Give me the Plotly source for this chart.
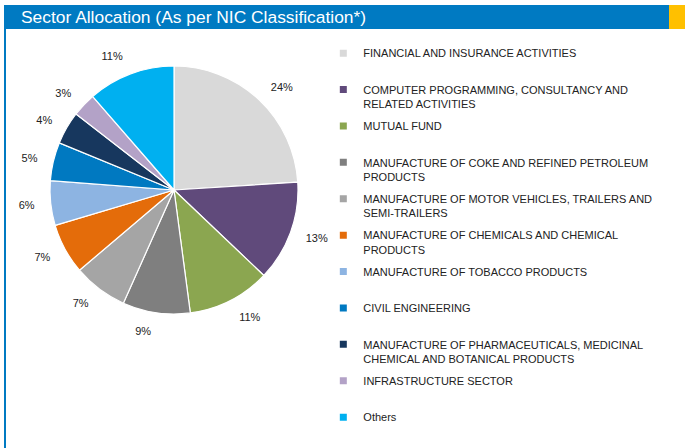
import plotly.graph_objects as go

sectors = [
    "FINANCIAL AND INSURANCE ACTIVITIES",
    "COMPUTER PROGRAMMING, CONSULTANCY AND<br>RELATED ACTIVITIES",
    "MUTUAL FUND",
    "MANUFACTURE OF COKE AND REFINED PETROLEUM<br>PRODUCTS",
    "MANUFACTURE OF MOTOR VEHICLES, TRAILERS AND<br>SEMI-TRAILERS",
    "MANUFACTURE OF CHEMICALS AND CHEMICAL<br>PRODUCTS",
    "MANUFACTURE OF TOBACCO PRODUCTS",
    "CIVIL ENGINEERING",
    "MANUFACTURE OF PHARMACEUTICALS, MEDICINAL<br>CHEMICAL AND BOTANICAL PRODUCTS",
    "INFRASTRUCTURE SECTOR",
    "Others",
]
weights = [24.0, 13.1, 10.8, 8.8, 7.1, 6.6, 5.8, 5.0, 4.3, 3.1, 11.4]
colors = ["#D9D9D9", "#604A7B", "#8BA650", "#7F7F7F", "#A5A5A5", "#E46C0A",
          "#8DB4E2", "#0079C1", "#17375E", "#B3A2C7", "#00B0F0"]

W, H = 685, 448
cx, cy, r = 174, 190, 124   # pie centre / radius in px
label_half = 137            # half-size of the (larger) domain carrying the % labels

fig = go.Figure()

# invisible pie, only there to carry the percentage labels a bit off the edge
fig.add_trace(go.Pie(
    values=weights, labels=sectors, sort=False, direction="clockwise", rotation=0,
    marker=dict(colors=["rgba(0,0,0,0)"] * len(weights), line=dict(width=0)),
    texttemplate="%{percent:.0%}", textposition="outside",
    textfont=dict(family="Liberation Sans, Arial", size=11, color="#222222"),
    domain=dict(x=[(cx - label_half) / W, (cx + label_half) / W],
                y=[1 - (cy + label_half) / H, 1 - (cy - label_half) / H]),
    showlegend=False, hoverinfo="skip",
))

fig.add_trace(go.Pie(
    labels=sectors, values=weights, sort=False, direction="clockwise", rotation=0,
    marker=dict(colors=colors, line=dict(color="white", width=1.2)),
    textinfo="none",
    domain=dict(x=[(cx - r) / W, (cx + r) / W], y=[1 - (cy + r) / H, 1 - (cy - r) / H]),
    showlegend=False, hoverinfo="label+percent",
))

# legend entries: every label padded to two lines so the rows are evenly spaced
for i, (name, col) in enumerate(zip(sectors, colors)):
    text = name if "<br>" in name else name + "<br> "
    fig.add_trace(go.Scatter(
        x=[None], y=[None], mode="markers", name=text,
        marker=dict(symbol="square", size=7, color=col),
        legendgroup=f"g{i}", showlegend=True,
    ))

fig.update_xaxes(visible=False)
fig.update_yaxes(visible=False)

fig.update_layout(
    width=W, height=H,
    margin=dict(l=0, r=0, t=0, b=0, autoexpand=False),
    paper_bgcolor="white",
    plot_bgcolor="white",
    legend=dict(
        x=0.472, y=1 - 39.5 / H, xanchor="left", yanchor="top",
        traceorder="grouped", tracegroupgap=4.8, valign="top",
        itemclick=False, itemdoubleclick=False,
        font=dict(family="Liberation Sans, Arial", size=11, color="#222222"),
        bgcolor="rgba(0,0,0,0)",
    ),
    shapes=[
        dict(type="rect", xref="paper", yref="paper", x0=4 / W, x1=669 / W,
             y0=1 - 29 / H, y1=1 - 5 / H, fillcolor="#007AC2", line=dict(width=0), layer="below"),
        dict(type="rect", xref="paper", yref="paper", x0=669 / W, x1=1,
             y0=1 - 29 / H, y1=1 - 5 / H, fillcolor="#FFC000", line=dict(width=0), layer="below"),
        dict(type="rect", xref="paper", yref="paper", x0=4 / W, x1=6 / W,
             y0=0, y1=1 - 29 / H, fillcolor="#007AC2", line=dict(width=0), layer="below"),
    ],
    annotations=[
        dict(text="Sector Allocation (As per NIC Classification*)", xref="paper", yref="paper",
             x=19 / W, y=1 - 17 / H, xanchor="left", yanchor="middle", showarrow=False,
             font=dict(family="Liberation Sans Narrow, Arial Narrow, Liberation Sans", size=17.4, color="white")),
    ],
)

# page body has a default 8px margin; drop it so the figure sits at the window corner
fig.write_html("out.html", config={"displayModeBar": False},
               post_script="document.body.style.margin='0';")
